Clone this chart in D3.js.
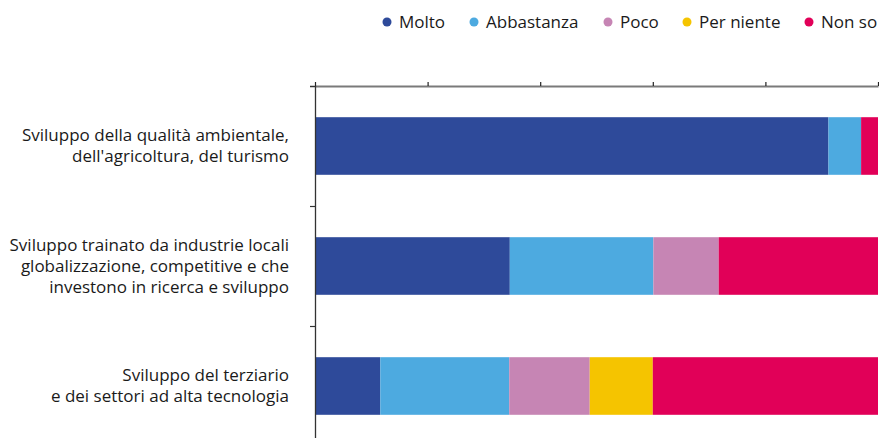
<!DOCTYPE html>
<html>
<head>
<meta charset="utf-8">
<script src="https://cdn.jsdelivr.net/npm/d3@7"></script>
<style>
  html, body { margin: 0; padding: 0; background: #fff; }
  svg { display: block; font-family: "Open Sans", "Noto Sans", sans-serif; }
</style>
</head>
<body>
<svg id="chart" width="879" height="438"></svg>
<script>
// Survey answers (%) for three development models
const categories = [
  ["Sviluppo della qualità ambientale,", "dell'agricoltura, del turismo"],
  ["Sviluppo trainato da industrie locali", "globalizzazione, competitive e che", "investono in ricerca e sviluppo"],
  ["Sviluppo del terziario", "e dei settori ad alta tecnologia"]
];
const seriesNames = ["Molto", "Abbastanza", "Poco", "Per niente", "Non so"];
const molto      = [91.2, 34.6, 11.6];
const abbastanza = [5.8, 25.5, 22.9];
const poco       = [0.0, 11.6, 14.3];
const perNiente  = [0.0, 0.0, 11.2];
const nonSo      = [3.0, 28.3, 40.0];
const xTicks = [0, 20, 40, 60, 80, 100];
const colors = ["#2e4a9a", "#4daae0", "#c685b4", "#f5c400", "#e10058"];

const seriesValues = [molto, abbastanza, poco, perNiente, nonSo];
const rows = categories.map((c, i) => {
  const r = { key: i };
  seriesNames.forEach((s, j) => r[s] = seriesValues[j][i]);
  return r;
});

const svg = d3.select("#chart");
const margin = { left: 315, right: 1, top: 86 };
const plotBottom = 446;

const x = d3.scaleLinear().domain([0, 100]).range([margin.left, 879 - margin.right]);
const y = d3.scaleBand().domain(d3.range(categories.length))
  .range([margin.top, plotBottom]).paddingInner(0.52).paddingOuter(0.26);

const stack = d3.stack().keys(seriesNames);
const stacked = stack(rows);

// Bars
svg.append("g").selectAll("g").data(stacked).join("g")
  .attr("fill", (d, i) => colors[i])
  .selectAll("rect").data(d => d).join("rect")
  .attr("x", d => x(d[0]))
  .attr("y", d => y(d.data.key))
  .attr("width", d => Math.max(0, x(d[1]) - x(d[0])))
  .attr("height", y.bandwidth());

// Top axis
const xAxis = svg.append("g")
  .attr("transform", `translate(0,${margin.top})`)
  .call(d3.axisTop(x).tickValues(xTicks).tickFormat("").tickSize(4).tickSizeOuter(0));
xAxis.select(".domain").attr("stroke", "#7a7a7a").attr("stroke-width", 2);
xAxis.selectAll(".tick line").attr("stroke", "#222").attr("stroke-width", 1.2);

// Left axis with ticks at the boundaries between categories
const step = y.step();
const boundaries = d3.range(1, categories.length).map(i => y(i) - step * y.paddingInner() / 2);
const yLin = d3.scaleLinear().domain([margin.top, plotBottom]).range([margin.top, plotBottom]);
const yAxis = svg.append("g")
  .attr("transform", `translate(${margin.left},0)`)
  .call(d3.axisLeft(yLin).tickValues(boundaries).tickFormat("").tickSize(5).tickSizeOuter(5));
yAxis.select(".domain").attr("stroke", "#333").attr("stroke-width", 1.3);
yAxis.selectAll(".tick line").attr("stroke", "#333").attr("stroke-width", 1.2);

// Category labels
const labels = svg.append("g").attr("font-size", 17).attr("fill", "#1a1a1a").attr("text-anchor", "end");
categories.forEach((lines, i) => {
  const cy = y(i) + y.bandwidth() / 2;
  const t = labels.append("text").attr("x", 289);
  lines.forEach((line, k) => {
    t.append("tspan").attr("x", 289)
      .attr("y", cy + 5.5 + (k - (lines.length - 1) / 2) * 21)
      .text(line);
  });
});

// Legend
const legendX = [387, 474, 608, 687, 809];
const legend = svg.append("g").attr("font-size", 17).attr("fill", "#1a1a1a");
seriesNames.forEach((s, i) => {
  legend.append("circle").attr("cx", legendX[i]).attr("cy", 22).attr("r", 4.5).attr("fill", colors[i]);
  legend.append("text").attr("x", legendX[i] + 12).attr("y", 28).text(s);
});
</script>
</body>
</html>
